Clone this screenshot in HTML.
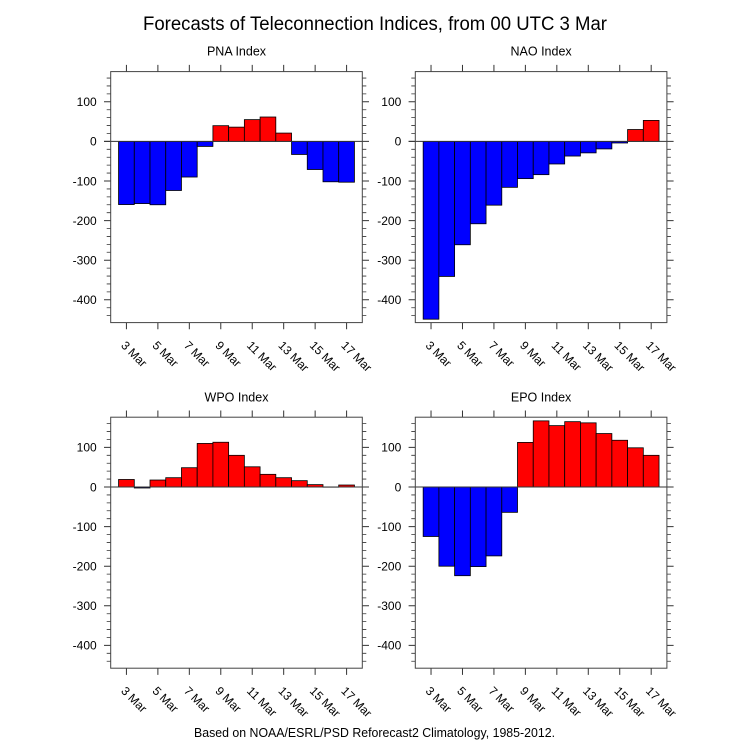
<!DOCTYPE html>
<html><head><meta charset="utf-8"><style>
html,body{margin:0;padding:0;background:#fff;}
svg{display:block;}
text{font-family:"Liberation Sans",Arial,sans-serif;fill:#000;}
</style></head><body>
<svg width="750" height="750" viewBox="0 0 750 750" xmlns="http://www.w3.org/2000/svg">
<defs>
<g id="ticks" fill="none" stroke="#333" stroke-width="1">
<path d="M-6.7 -39.6H0M-6.7 0H0M-6.7 39.6H0M-6.7 79.2H0M-6.7 118.8H0M-6.7 158.4H0M251.6 -39.6h6.7M251.6 39.6h6.7M251.6 79.2h6.7M251.6 118.8h6.7M251.6 158.4h6.7"/>
<path d="M-6.7 0H258.3"/>
<path stroke-width="0.8" d="M-4 -63.36H0M-4 -55.44H0M-4 -47.52H0M-4 -31.68H0M-4 -23.76H0M-4 -15.84H0M-4 -7.92H0M-4 7.92H0M-4 15.84H0M-4 23.76H0M-4 31.68H0M-4 47.52H0M-4 55.44H0M-4 63.36H0M-4 71.28H0M-4 87.12H0M-4 95.04H0M-4 102.96H0M-4 110.88H0M-4 126.72H0M-4 134.64H0M-4 142.56H0M-4 150.48H0M-4 166.32H0M-4 174.24H0
M251.6 -63.36h4M251.6 -55.44h4M251.6 -47.52h4M251.6 -31.68h4M251.6 -23.76h4M251.6 -15.84h4M251.6 -7.92h4M251.6 7.92h4M251.6 15.84h4M251.6 23.76h4M251.6 31.68h4M251.6 47.52h4M251.6 55.44h4M251.6 63.36h4M251.6 71.28h4M251.6 87.12h4M251.6 95.04h4M251.6 102.96h4M251.6 110.88h4M251.6 126.72h4M251.6 134.64h4M251.6 142.56h4M251.6 150.48h4M251.6 166.32h4M251.6 174.24h4"/>
<path d="M15.73 181.2v6.7M47.18 181.2v6.7M78.63 181.2v6.7M110.08 181.2v6.7M141.53 181.2v6.7M172.98 181.2v6.7M204.44 181.2v6.7M235.89 181.2v6.7
M15.73 -69.8v-6.7M47.18 -69.8v-6.7M78.63 -69.8v-6.7M110.08 -69.8v-6.7M141.53 -69.8v-6.7M172.98 -69.8v-6.7M204.44 -69.8v-6.7M235.89 -69.8v-6.7"/>
<rect x="0" y="-69.8" width="251.6" height="251" stroke="#444"/>
</g>
</defs>

<text x="375" y="30" text-anchor="middle" font-size="19" textLength="464" lengthAdjust="spacingAndGlyphs">Forecasts of Teleconnection Indices, from 00 UTC 3 Mar</text>

<!-- PNA -->
<text x="236.5" y="55.7" text-anchor="middle" font-size="12.5">PNA Index</text>
<g transform="translate(110.7,141.4)" stroke="#000" stroke-width="0.8">
<g fill="#0000ff">
<rect x="7.86" y="0" width="15.73" height="63.16"/>
<rect x="23.59" y="0" width="15.72" height="62.17"/>
<rect x="39.31" y="0" width="15.73" height="63.36"/>
<rect x="55.04" y="0" width="15.72" height="49.10"/>
<rect x="70.76" y="0" width="15.73" height="35.64"/>
<rect x="86.49" y="0" width="15.72" height="5.03"/>
<rect x="180.84" y="0" width="15.72" height="13.07"/>
<rect x="196.56" y="0" width="15.73" height="28.12"/>
<rect x="212.29" y="0" width="15.72" height="40.39"/>
<rect x="228.01" y="0" width="15.73" height="40.79"/>
</g>
<g fill="#ff0000">
<rect x="102.21" y="-15.72" width="15.73" height="15.72"/>
<rect x="117.94" y="-14.26" width="15.72" height="14.26"/>
<rect x="133.66" y="-21.78" width="15.73" height="21.78"/>
<rect x="149.39" y="-24.39" width="15.72" height="24.39"/>
<rect x="165.11" y="-8.32" width="15.73" height="8.32"/>
</g>
<use href="#ticks"/>
</g>
<g font-size="12" text-anchor="end">
<text x="96.7" y="106.1">100</text><text x="96.7" y="145.7">0</text><text x="96.7" y="185.3">-100</text><text x="96.7" y="224.9">-200</text><text x="96.7" y="264.5">-300</text><text x="96.7" y="304.1">-400</text>
</g>
<g font-size="12">
<text transform="translate(120.33,346.1) rotate(45)">3 Mar</text>
<text transform="translate(151.78,346.1) rotate(45)">5 Mar</text>
<text transform="translate(183.23,346.1) rotate(45)">7 Mar</text>
<text transform="translate(214.68,346.1) rotate(45)">9 Mar</text>
<text transform="translate(246.13,346.1) rotate(45)">11 Mar</text>
<text transform="translate(277.58,346.1) rotate(45)">13 Mar</text>
<text transform="translate(309.04,346.1) rotate(45)">15 Mar</text>
<text transform="translate(340.49,346.1) rotate(45)">17 Mar</text>
</g>

<!-- NAO -->
<text x="541.1" y="55.7" text-anchor="middle" font-size="12.5">NAO Index</text>
<g transform="translate(415.3,141.4)" stroke="#000" stroke-width="0.8">
<g fill="#0000ff">
<rect x="7.86" y="0" width="15.73" height="177.80"/>
<rect x="23.59" y="0" width="15.72" height="135.04"/>
<rect x="39.31" y="0" width="15.73" height="103.36"/>
<rect x="55.04" y="0" width="15.72" height="82.37"/>
<rect x="70.76" y="0" width="15.73" height="63.76"/>
<rect x="86.49" y="0" width="15.72" height="45.94"/>
<rect x="102.21" y="0" width="15.73" height="37.22"/>
<rect x="117.94" y="0" width="15.72" height="33.26"/>
<rect x="133.66" y="0" width="15.73" height="22.57"/>
<rect x="149.39" y="0" width="15.72" height="14.65"/>
<rect x="165.11" y="0" width="15.73" height="11.48"/>
<rect x="180.84" y="0" width="15.72" height="7.52"/>
<rect x="196.56" y="0" width="15.73" height="1.58"/>
</g>
<g fill="#ff0000">
<rect x="212.29" y="-11.88" width="15.72" height="11.88"/>
<rect x="228.01" y="-20.99" width="15.73" height="20.99"/>
</g>
<use href="#ticks"/>
</g>
<g font-size="12" text-anchor="end">
<text x="401.3" y="106.1">100</text><text x="401.3" y="145.7">0</text><text x="401.3" y="185.3">-100</text><text x="401.3" y="224.9">-200</text><text x="401.3" y="264.5">-300</text><text x="401.3" y="304.1">-400</text>
</g>
<g font-size="12">
<text transform="translate(424.93,346.1) rotate(45)">3 Mar</text>
<text transform="translate(456.38,346.1) rotate(45)">5 Mar</text>
<text transform="translate(487.83,346.1) rotate(45)">7 Mar</text>
<text transform="translate(519.28,346.1) rotate(45)">9 Mar</text>
<text transform="translate(550.73,346.1) rotate(45)">11 Mar</text>
<text transform="translate(582.18,346.1) rotate(45)">13 Mar</text>
<text transform="translate(613.64,346.1) rotate(45)">15 Mar</text>
<text transform="translate(645.09,346.1) rotate(45)">17 Mar</text>
</g>

<!-- WPO -->
<text x="236.5" y="401.5" text-anchor="middle" font-size="12.5">WPO Index</text>
<g transform="translate(110.7,487.0)" stroke="#000" stroke-width="0.8">
<g fill="#0000ff">
<rect x="23.59" y="0" width="15.72" height="0.99"/>
<rect x="212.29" y="0" width="15.72" height="0.2"/>
</g>
<g fill="#ff0000">
<rect x="7.86" y="-7.52" width="15.73" height="7.52"/>
<rect x="39.31" y="-6.97" width="15.73" height="6.97"/>
<rect x="55.04" y="-9.31" width="15.72" height="9.31"/>
<rect x="70.76" y="-19.29" width="15.73" height="19.29"/>
<rect x="86.49" y="-43.56" width="15.72" height="43.56"/>
<rect x="102.21" y="-44.75" width="15.73" height="44.75"/>
<rect x="117.94" y="-31.68" width="15.72" height="31.68"/>
<rect x="133.66" y="-20.20" width="15.73" height="20.20"/>
<rect x="149.39" y="-12.67" width="15.72" height="12.67"/>
<rect x="165.11" y="-9.31" width="15.73" height="9.31"/>
<rect x="180.84" y="-6.34" width="15.72" height="6.34"/>
<rect x="196.56" y="-2.38" width="15.73" height="2.38"/>
<rect x="228.01" y="-1.98" width="15.73" height="1.98"/>
</g>
<use href="#ticks"/>
</g>
<g font-size="12" text-anchor="end">
<text x="96.7" y="451.7">100</text><text x="96.7" y="491.3">0</text><text x="96.7" y="530.9">-100</text><text x="96.7" y="570.5">-200</text><text x="96.7" y="610.1">-300</text><text x="96.7" y="649.7">-400</text>
</g>
<g font-size="12">
<text transform="translate(120.33,691.6) rotate(45)">3 Mar</text>
<text transform="translate(151.78,691.6) rotate(45)">5 Mar</text>
<text transform="translate(183.23,691.6) rotate(45)">7 Mar</text>
<text transform="translate(214.68,691.6) rotate(45)">9 Mar</text>
<text transform="translate(246.13,691.6) rotate(45)">11 Mar</text>
<text transform="translate(277.58,691.6) rotate(45)">13 Mar</text>
<text transform="translate(309.04,691.6) rotate(45)">15 Mar</text>
<text transform="translate(340.49,691.6) rotate(45)">17 Mar</text>
</g>

<!-- EPO -->
<text x="541.1" y="401.5" text-anchor="middle" font-size="12.5">EPO Index</text>
<g transform="translate(415.3,487.0)" stroke="#000" stroke-width="0.8">
<g fill="#0000ff">
<rect x="7.86" y="0" width="15.73" height="49.50"/>
<rect x="23.59" y="0" width="15.72" height="79.20"/>
<rect x="39.31" y="0" width="15.73" height="88.70"/>
<rect x="55.04" y="0" width="15.72" height="79.60"/>
<rect x="70.76" y="0" width="15.73" height="68.90"/>
<rect x="86.49" y="0" width="15.72" height="25.34"/>
</g>
<g fill="#ff0000">
<rect x="102.21" y="-44.59" width="15.73" height="44.59"/>
<rect x="117.94" y="-66.13" width="15.72" height="66.13"/>
<rect x="133.66" y="-61.38" width="15.73" height="61.38"/>
<rect x="149.39" y="-65.34" width="15.72" height="65.34"/>
<rect x="165.11" y="-64.15" width="15.73" height="64.15"/>
<rect x="180.84" y="-53.46" width="15.72" height="53.46"/>
<rect x="196.56" y="-46.73" width="15.73" height="46.73"/>
<rect x="212.29" y="-39.20" width="15.72" height="39.20"/>
<rect x="228.01" y="-31.68" width="15.73" height="31.68"/>
</g>
<use href="#ticks"/>
</g>
<g font-size="12" text-anchor="end">
<text x="401.3" y="451.7">100</text><text x="401.3" y="491.3">0</text><text x="401.3" y="530.9">-100</text><text x="401.3" y="570.5">-200</text><text x="401.3" y="610.1">-300</text><text x="401.3" y="649.7">-400</text>
</g>
<g font-size="12">
<text transform="translate(424.93,691.6) rotate(45)">3 Mar</text>
<text transform="translate(456.38,691.6) rotate(45)">5 Mar</text>
<text transform="translate(487.83,691.6) rotate(45)">7 Mar</text>
<text transform="translate(519.28,691.6) rotate(45)">9 Mar</text>
<text transform="translate(550.73,691.6) rotate(45)">11 Mar</text>
<text transform="translate(582.18,691.6) rotate(45)">13 Mar</text>
<text transform="translate(613.64,691.6) rotate(45)">15 Mar</text>
<text transform="translate(645.09,691.6) rotate(45)">17 Mar</text>
</g>

<text x="374.5" y="737" text-anchor="middle" font-size="12.5" textLength="361" lengthAdjust="spacingAndGlyphs">Based on NOAA/ESRL/PSD Reforecast2 Climatology, 1985-2012.</text>
</svg>
</body></html>
